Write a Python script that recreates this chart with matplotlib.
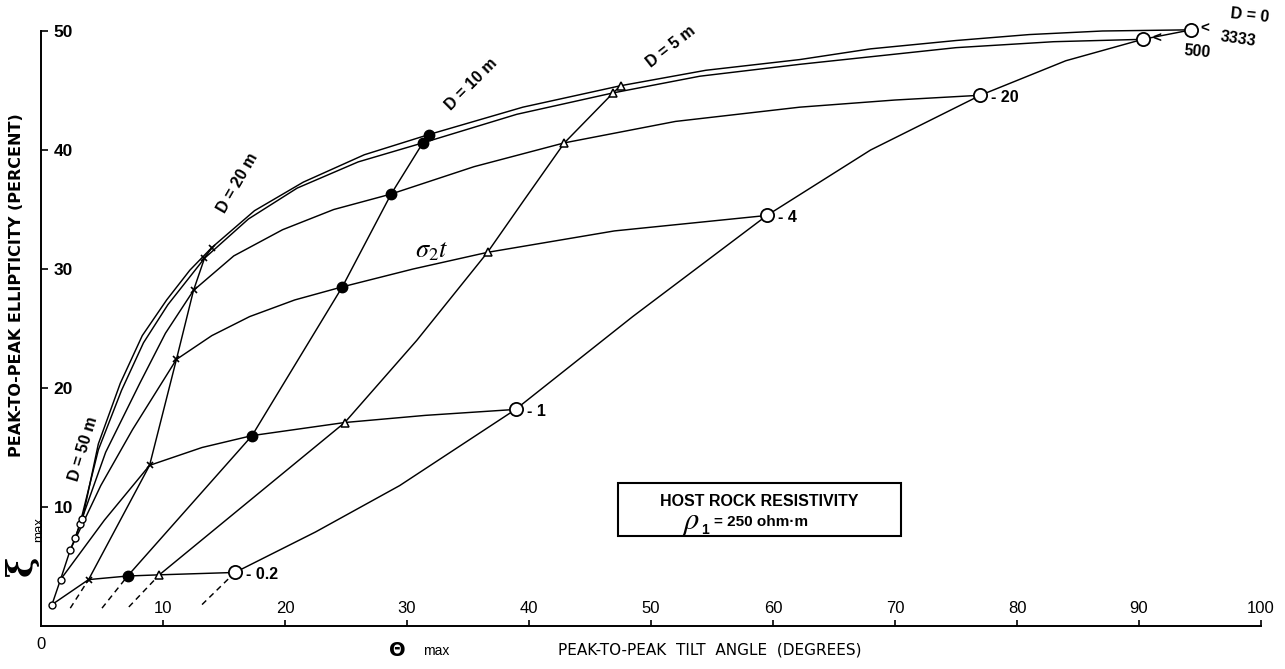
import matplotlib
matplotlib.use("Agg")
import matplotlib.pyplot as plt
from matplotlib.patches import Rectangle

plt.rcParams['font.family'] = ['Liberation Sans', 'DejaVu Sans']
plt.rcParams['mathtext.fontset'] = 'stix'

# ---------------- data (theta_max in degrees, xi_max in percent) ----------------
sigma_t = ["0.2", "1", "4", "20", "500", "3333"]
depth_names = ["D = 50 m", "D = 20 m", "D = 10 m", "D = 5 m", "D = 0"]

# marker positions along each depth curve, in sigma_t order
d50_theta = [0.9, 1.6, 2.4, 2.8, 3.2, 3.4]
d50_xi = [1.8, 3.9, 6.4, 7.4, 8.6, 9.0]
d20_theta = [3.9, 8.9, 11.1, 12.5, 13.4, 14.0]
d20_xi = [3.9, 13.5, 22.4, 28.2, 30.9, 31.8]
d10_theta = [7.1, 17.3, 24.7, 28.7, 31.3, 31.8]
d10_xi = [4.2, 16.0, 28.5, 36.3, 40.6, 41.3]
d5_theta = [9.7, 24.9, 30.8, 36.6, 39.6, 42.9, 46.9, 47.5]
d5_xi = [4.3, 17.1, 24.0, 31.4, 35.8, 40.6, 44.8, 45.4]
d5_marker_theta = [9.7, 24.9, 36.6, 42.9, 46.9, 47.5]
d5_marker_xi = [4.3, 17.1, 31.4, 40.6, 44.8, 45.4]
d0_theta = [15.9, 22.5, 29.4, 38.9, 48.5, 59.5, 68.0, 77.0, 84.0, 90.3, 94.3]
d0_xi = [4.5, 7.9, 11.8, 18.2, 26.0, 34.5, 40.0, 44.6, 47.5, 49.3, 50.1]
d0_marker_theta = [15.9, 38.9, 59.5, 77.0, 90.3, 94.3]
d0_marker_xi = [4.5, 18.2, 34.5, 44.6, 49.3, 50.1]

# dashed continuations of the depth curves below sigma_t = 0.2 (start points)
ext_theta = [2.4, 5.0, 7.2, 13.2]
ext_xi = [1.5, 1.5, 1.6, 1.8]

# traced conductance (sigma_t) curves
s02_theta = [0.9, 3.9, 7.1, 9.7, 15.9]
s02_xi = [1.8, 3.9, 4.2, 4.3, 4.5]
s1_theta = [1.6, 5.2, 8.9, 13.2, 17.3, 24.9, 31.5, 38.9]
s1_xi = [3.9, 8.9, 13.5, 15.0, 16.0, 17.1, 17.7, 18.2]
s4_theta = [2.4, 4.9, 7.5, 11.1, 14.0, 17.1, 20.8, 24.7, 30.5, 36.6, 47.0, 59.5]
s4_xi = [6.4, 11.8, 16.5, 22.4, 24.4, 26.0, 27.4, 28.5, 30.0, 31.4, 33.2, 34.5]
s20_theta = [2.8, 5.3, 8.1, 10.2, 12.5, 15.8, 19.8, 24.0, 28.7, 35.5, 42.9, 52.0,
             62.2, 70.0, 77.0]
s20_xi = [7.4, 14.6, 20.4, 24.6, 28.2, 31.1, 33.3, 35.0, 36.3, 38.6, 40.6, 42.4,
          43.6, 44.2, 44.6]
s500_theta = [3.2, 4.7, 6.6, 8.4, 10.4, 13.4, 17.0, 21.0, 26.0, 31.3, 39.0, 46.9,
              54.0, 62.2, 75.0, 83.0, 90.3]
s500_xi = [8.6, 14.8, 19.8, 23.8, 27.0, 30.9, 34.2, 36.8, 39.0, 40.6, 43.0, 44.8,
           46.2, 47.2, 48.6, 49.1, 49.3]
s3333_theta = [3.4, 4.7, 6.5, 8.3, 10.3, 12.2, 14.0, 17.5, 21.5, 26.5, 31.8, 39.5,
               47.5, 54.5, 62.2, 68.0, 75.0, 81.0, 87.0, 94.3]
s3333_xi = [9.0, 15.3, 20.4, 24.4, 27.4, 29.9, 31.8, 34.9, 37.3, 39.6, 41.3, 43.6,
            45.4, 46.7, 47.6, 48.5, 49.2, 49.7, 50.0, 50.1]

x_ticks = [10, 20, 30, 40, 50, 60, 70, 80, 90, 100]
y_ticks = [10, 20, 30, 40, 50]

# ---------------- figure ----------------
W, H = 1285, 669
fig = plt.figure(figsize=(W / 100, H / 100), dpi=100)
ax = fig.add_axes([41 / W, 43 / H, 1220 / W, 595 / H])
ax.set_xlim(0, 100)
ax.set_ylim(0, 50)

LW = 1.05
K = 'black'

# conductance curves
for th, xi in [(s02_theta, s02_xi), (s1_theta, s1_xi), (s4_theta, s4_xi),
               (s20_theta, s20_xi), (s500_theta, s500_xi), (s3333_theta, s3333_xi)]:
    ax.plot(th, xi, color=K, lw=LW, zorder=2, clip_on=False, solid_joinstyle='round')

# depth curves
for th, xi in [(d50_theta, d50_xi), (d20_theta, d20_xi), (d10_theta, d10_xi),
               (d5_theta, d5_xi), (d0_theta, d0_xi)]:
    ax.plot(th, xi, color=K, lw=LW, zorder=2, clip_on=False, solid_joinstyle='round')

# dashed continuations toward the origin
for i, (th, xi) in enumerate([(d20_theta, d20_xi), (d10_theta, d10_xi),
                              (d5_theta, d5_xi), (d0_theta, d0_xi)]):
    ax.plot([ext_theta[i], th[0]], [ext_xi[i], xi[0]], color=K, lw=LW,
            ls=(0, (4, 3)), zorder=2)

# markers
ax.plot(d50_theta, d50_xi, ls='none', marker='o', ms=5, mfc='white', mec=K, mew=1.0, zorder=4)
ax.plot(d20_theta, d20_xi, ls='none', marker='x', ms=5, mec=K, mew=1.2, zorder=4)
ax.plot(d10_theta, d10_xi, ls='none', marker='o', ms=7.5, mfc=K, mec=K, zorder=4)
ax.plot(d5_marker_theta, d5_marker_xi, ls='none', marker='^', ms=5.5, mfc='white', mec=K,
        mew=1.1, zorder=4)
ax.plot(d0_marker_theta, d0_marker_xi, ls='none', marker='o', ms=9.5, mfc='white', mec=K,
        mew=1.3, zorder=4, clip_on=False)

# conductance labels at the D = 0 end
lab_kw = dict(fontsize=11.5, fontweight='bold', va='center', ha='left', color=K)
for i in range(4):
    ax.text(d0_marker_theta[i] + 0.9, d0_marker_xi[i] - 0.2, "- " + sigma_t[i], **lab_kw)
ax.text(d0_marker_theta[4] + 0.8, d0_marker_xi[4], "<", fontsize=11, fontweight='bold',
        va='center', ha='left', clip_on=False)
ax.text(d0_marker_theta[5] + 0.7, d0_marker_xi[5] + 0.1, "<", fontsize=11, fontweight='bold',
        va='center', ha='left', clip_on=False)
ax.text(94.8, 48.3, sigma_t[4], fontsize=11.5, fontweight='bold', ha='center', va='center',
        rotation=-5)
ax.text(98.1, 49.3, sigma_t[5], fontsize=11.5, fontweight='bold', ha='center', va='center',
        rotation=-8)

# depth labels
dk = dict(fontsize=11.5, fontweight='bold', ha='center', va='center', rotation_mode='anchor')
ax.text(3.5, 14.9, depth_names[0], rotation=73, **dk)
ax.text(16.1, 37.2, depth_names[1], rotation=60, **dk)
ax.text(35.3, 45.5, depth_names[2], rotation=45, **dk)
ax.text(51.6, 48.7, depth_names[3], rotation=38, **dk)
ax.text(99.1, 51.3, depth_names[4], rotation=-6, clip_on=False, **dk)

# sigma_2 t label
ax.text(32.0, 31.5, r'$\sigma_2 t$', fontsize=19, ha='center', va='center')

# host rock box
ax.add_patch(Rectangle((47.3, 7.6), 23.2, 4.45, fill=False, lw=1.5, ec=K, zorder=3))
ax.text(58.9, 10.45, "HOST ROCK RESISTIVITY", fontsize=11.5, fontweight='bold',
        ha='center', va='center')
ax.text(53.3, 8.7, r'$\rho$', fontsize=22, ha='center', va='center')
ax.text(54.4, 8.1, "1", fontsize=10, fontweight='bold', ha='center', va='center')
ax.text(55.2, 8.75, "= 250 ohm\u00b7m", fontsize=11, fontweight='bold', ha='left', va='center')

# axes styling
for s in ['top', 'right']:
    ax.spines[s].set_visible(False)
ax.spines['left'].set_linewidth(1.4)
ax.spines['bottom'].set_linewidth(1.4)
ax.set_xticks(x_ticks)
ax.set_xticklabels([str(v) for v in x_ticks])
ax.set_yticks(y_ticks)
ax.set_yticklabels([str(v) for v in y_ticks])
ax.tick_params(axis='x', direction='in', length=4, width=1.2, pad=-18, labelsize=12)
ax.tick_params(axis='y', direction='in', length=5, width=1.2, pad=-23, labelsize=12.5)
for lab in ax.get_yticklabels():
    lab.set_fontweight('bold')
ax.text(0, -1.55, "0", fontsize=12, ha='center', va='center', clip_on=False)

# axis titles
fig.text(17 / W, 1 - 285 / H, "PEAK-TO-PEAK ELLIPTICITY (PERCENT)", rotation=90,
         fontsize=11.5, fontweight='bold', ha='center', va='center', family='DejaVu Sans')
fig.text(22 / W, 1 - 566 / H, "\u03be", rotation=90, fontsize=25, fontweight='bold',
         ha='center', va='center', family='DejaVu Serif')
fig.text(39 / W, 1 - 530 / H, "max", rotation=90, fontsize=9.5, ha='center', va='center')
fig.text(397 / W, 1 - 650 / H, "\u0398", fontsize=14, fontweight='bold', ha='center',
         va='center', family='DejaVu Sans')
fig.text(436 / W, 1 - 651 / H, "max", fontsize=10, ha='center', va='center')
fig.text(710 / W, 1 - 650 / H, "PEAK-TO-PEAK  TILT  ANGLE  (DEGREES)", fontsize=11,
         ha='center', va='center', family='DejaVu Sans')

fig.savefig("out.png", dpi=100)
